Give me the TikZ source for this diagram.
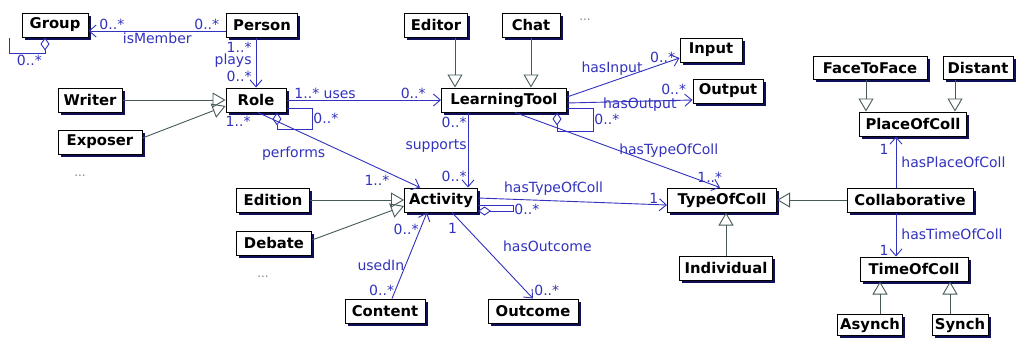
\documentclass[tikz,border=0pt]{standalone}
\usepackage{fontspec}
\usepackage{tikz}
\usetikzlibrary{arrows.meta,shadows,positioning}
\newfontfamily\dejavu{DejaVu Sans}
\definecolor{assocblue}{RGB}{50,50,190}
\definecolor{genline}{RGB}{70,90,90}
\definecolor{shadowcol}{RGB}{15,15,90}

\begin{document}
\begin{tikzpicture}
[x=1pt, y=-1pt, line width=0.9pt,
cls/.style={draw, fill=white, line width=1pt, minimum height=24pt, inner xsep=2pt, inner ysep=0pt,
  font=\dejavu\bfseries\fontsize{14.8}{16}\selectfont,
  drop shadow={shadow xshift=2.5pt, shadow yshift=-2.5pt, fill=shadowcol, opacity=1}},
assoc/.style={draw=assocblue, -{Straight Barb[length=7pt,width=12pt]},
  nodes={font=\dejavu\fontsize{14}{16}\selectfont, text=assocblue, inner sep=1pt}},
aggr/.style={draw=assocblue, {Diamond[open,length=13pt,width=9pt]}-,
  nodes={font=\dejavu\fontsize{14}{16}\selectfont, text=assocblue, inner sep=1pt}},
gen/.style={draw=genline, -{Triangle[open,length=13pt,width=15pt]}},
dots/.style={text=gray, font=\dejavu\fontsize{12}{12}\selectfont}]
\fill[white] (0,0) rectangle (1025,343);
\useasboundingbox (0,0) rectangle (1025,343);

\node (Group) at (55,25)[cls, minimum width=66] {Group};
\node (Person) at (262,25)[cls, minimum width=71] {Person};
\node (Role) at (256,100)[cls, minimum width=60] {Role};
\node (Writer) at (90,100)[cls, minimum width=64] {Writer};
\node (Exposer) at (100,142)[cls, minimum width=84] {Exposer};
\node (more1) at (80,176)[dots] {...};
\node (Editor) at (436,25)[cls, minimum width=63] {Editor};
\node (Chat) at (531,25)[cls, minimum width=58] {Chat};
\node (more2) at (585,20)[dots] {...};
\node (LearningTool) at (504,100)[cls, minimum width=125] {LearningTool};
\node (Input) at (711,50)[cls, minimum width=62] {Input};
\node (Output) at (728,91)[cls, minimum width=70] {Output};
\node (Activity) at (441,200)[cls, minimum width=73] {Activity};
\node (Edition) at (273,200)[cls, minimum width=73] {Edition};
\node (Debate) at (274,243)[cls, minimum width=75] {Debate};
\node (more3) at (263,277)[dots] {...};
\node (Content) at (385,311)[cls, minimum width=80] {Content};
\node (Outcome) at (533,311)[cls, minimum width=90] {Outcome};
\node (TypeOfColl) at (722,200)[cls, minimum width=109] {TypeOfColl};
\node (Individual) at (726,268)[cls, minimum width=93] {Individual};
\node (FaceToFace) at (870,68)[cls, minimum width=114, minimum height=23] {FaceToFace};
\node (Distant) at (978,68)[cls, minimum width=70, minimum height=23] {Distant};
\node (PlaceOfColl) at (913,124)[cls, minimum width=107] {PlaceOfColl};
\node (Collaborative) at (910,200)[cls, minimum width=126] {Collaborative};
\node (TimeOfColl) at (914,269)[cls, minimum width=108] {TimeOfColl};
\node (Asynch) at (870,325)[cls, minimum width=65, minimum height=21] {Asynch};
\node (Synch) at (960,325)[cls, minimum width=56, minimum height=21] {Synch};

% person, group, role
\draw ([yshift=-6pt]Person.west) edge[assoc] node[pos=0.14,above] {0..*} node[pos=0.83,above] {0..*}
  node[pos=0.5,below] {isMember} ([yshift=-6pt]Group.east);
\draw[aggr] ([xshift=-10pt]Group.south) -- ++(0,16) -| node[pos=0.22,below] {0..*} ([xshift=-12pt]Group.south west);
\draw (Person.south -| Role.north) edge[assoc] node[pos=0.2,left=3pt] {1..*} node[pos=0.47,left=3pt] {plays}
  node[pos=0.78,left=3pt] {0..*} (Role.north);
\draw (Writer.east) edge[gen] (Role.west);
\draw ([yshift=4pt]Exposer.east) edge[gen] ([yshift=-6pt]Role.west);
\draw[aggr] ([xshift=21pt]Role.south) -- ++(0,17) -- ++(35,0) |- node[pos=0.25,right] {0..*} ([yshift=-8pt]Role.east);
\draw (Role.east) edge[assoc] node[pos=0.25,above] {1..* uses} node[pos=0.82,above] {0..*} (LearningTool.west);
\draw ([xshift=2pt]Role.south) edge[assoc] node[pos=0,below left=2pt and 6pt] {1..*} node[pos=0.22,below=16pt] {performs}
  node[pos=0.82,below left] {1..*} ([xshift=-21pt]Activity.north);

% learning tool
\draw ([xshift=19pt]Editor.south) edge[gen] ([xshift=-49pt]LearningTool.north);
\draw (Chat.south) edge[gen] (Chat.south |- LearningTool.north);
\draw ([yshift=3pt]LearningTool.east) edge[assoc] node[pos=0.4,above=5pt] {hasInput} node[pos=0.85,above] {0..*} ([yshift=-8pt]Input.west);
\draw ([yshift=-3pt]LearningTool.east) edge[assoc] node[pos=0.58,yshift=-3pt] {hasOutput} node[pos=0.85,above=4pt] {0..*} ([yshift=-9pt]Output.west);
\draw[aggr] ([xshift=53pt]LearningTool.south) -- ++(0,19) -- ++(36,0) |- node[pos=0.25,right] {0..*} ([yshift=-8pt]LearningTool.east);
\draw ([xshift=11pt]LearningTool.south) edge[assoc] node[pos=0.75,above=10pt] {hasTypeOfColl} node[pos=0.95,above] {1..*} ([xshift=-2pt]TypeOfColl.north);
\draw ([xshift=-36pt]LearningTool.south) edge[assoc] node[pos=0.13,left] {0..*} node[pos=0.45,left] {supports}
  node[pos=0.85,left] {0..*} ([xshift=27pt]Activity.north);

% activity
\draw (Edition.east) edge[gen] (Activity.west);
\draw ([yshift=3pt]Debate.east) edge[gen] ([yshift=-6pt]Activity.west);
\draw ([yshift=2pt]Activity.east) edge[assoc] node[pos=0.4,above=4pt] {hasTypeOfColl} node[pos=0.93,above] {1} ([yshift=-5pt]TypeOfColl.west);
\draw[aggr] ([yshift=-11pt]Activity.east) -- ++(35,0) |- node[pos=0.1,right] {0..*} ([yshift=-5pt]Activity.east);
\draw ([xshift=7pt]Content.north) edge[assoc] node[pos=0.1,left] {0..*} node[pos=0.39,left] {usedIn}
  node[pos=0.8,left] {0..*} ([xshift=-14pt]Activity.south);
\draw ([xshift=11pt]Activity.south) edge[assoc] node[pos=0.18,left=8pt] {1} node[pos=0.39,right=18pt] {hasOutcome}
  node[pos=0.9,right=8pt] {0..*} (Outcome.north);

% collaboration
\draw (Individual.north) edge[gen] (Individual.north |- TypeOfColl.south);
\draw (Collaborative.west) edge[gen] (TypeOfColl.east);
\draw ([xshift=-4pt]FaceToFace.south) edge[gen] ([xshift=-47pt]PlaceOfColl.north);
\draw ([xshift=-23pt]Distant.south) edge[gen] ([xshift=42pt]PlaceOfColl.north);
\draw ([xshift=-14pt]Collaborative.north) edge[assoc] node[pos=0.75,left=6pt] {1} node[pos=0.5,right=4pt] {hasPlaceOfColl} ([xshift=-17pt]PlaceOfColl.south);
\draw ([xshift=-14pt]Collaborative.south) edge[assoc] node[pos=0.85,left=6pt] {1} node[pos=0.5,right=4pt] {hasTimeOfColl} ([xshift=-18pt]TimeOfColl.north);
\draw ([xshift=10pt]Asynch.north) edge[gen] ([xshift=-34pt]TimeOfColl.south);
\draw ([xshift=-10pt]Synch.north) edge[gen] ([xshift=36pt]TimeOfColl.south);
\end{tikzpicture}
\end{document}
